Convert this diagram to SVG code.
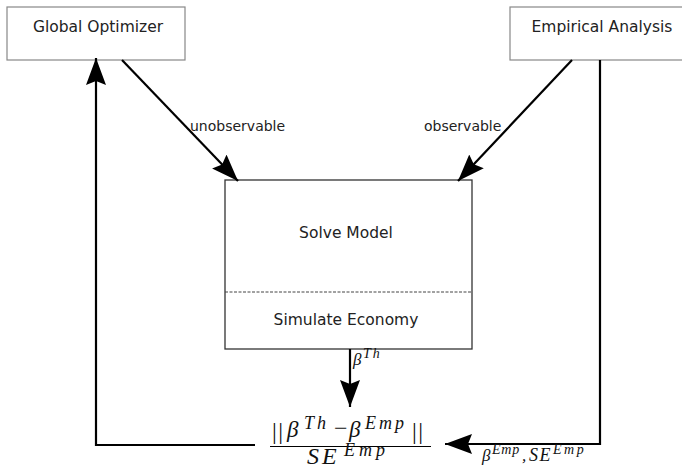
<svg xmlns="http://www.w3.org/2000/svg" width="682" height="468" viewBox="0 0 682 468">
  <style>
    .box { fill: #ffffff; stroke: #888888; stroke-width: 1.2; }
    .main { fill: #ffffff; stroke: #333333; stroke-width: 1.3; }
    .lbl { font-family: "DejaVu Sans", sans-serif; font-size: 15.5px; fill: #222222; text-anchor: middle; }
    .small { font-family: "DejaVu Sans", sans-serif; font-size: 14px; fill: #222222; }
    .mf { font-family: "Liberation Serif", serif; font-style: italic; fill: #111111; }
    .up { font-family: "Liberation Serif", serif; fill: #111111; font-size: 24px; }
    .edge { fill: none; stroke: #000000; stroke-width: 2.2; marker-end: url(#head); }
  </style>
  <defs>
    <marker id="head" viewBox="0 0 27 20" refX="27" refY="10" markerWidth="27" markerHeight="20" markerUnits="userSpaceOnUse" orient="auto">
      <path d="M0,0 L27,10 L0,20 L4,10 Z" fill="#000000"/>
    </marker>
  </defs>

  <rect width="682" height="468" fill="#ffffff"/>

  <g id="global-optimizer">
    <rect class="box" x="7" y="7" width="178" height="53"/>
    <text class="lbl" x="98" y="32">Global Optimizer</text>
  </g>

  <g id="empirical-analysis">
    <rect class="box" x="510" y="7" width="180" height="53"/>
    <text class="lbl" x="602" y="32">Empirical Analysis</text>
  </g>

  <g id="model">
    <rect class="main" x="225" y="180" width="247" height="169"/>
    <line x1="225" y1="292" x2="472" y2="292" stroke="#444444" stroke-width="1" stroke-dasharray="3,1.5"/>
    <text class="lbl" x="346" y="238">Solve Model</text>
    <text class="lbl" x="346" y="325">Simulate Economy</text>
  </g>

  <!-- objective: ||b_th - b_emp|| / SE_emp -->
  <g id="objective">
    <text class="up" x="272" y="439" letter-spacing="1.5">||</text>
    <text class="mf" x="287" y="437" font-size="23">β</text>
    <text class="mf" x="304" y="429" font-size="18" letter-spacing="3">Th</text>
    <text class="up" x="334" y="436" font-size="22">−</text>
    <text class="mf" x="349" y="437" font-size="23">β</text>
    <text class="mf" x="365" y="429" font-size="18" letter-spacing="3">Emp</text>
    <text class="up" x="412" y="439" letter-spacing="1.5">||</text>
    <line x1="270" y1="446.5" x2="431" y2="446.5" stroke="#000000" stroke-width="1"/>
    <text class="mf" x="307" y="464" font-size="24" letter-spacing="3">SE</text>
    <text class="mf" x="344" y="456" font-size="18" letter-spacing="4">Emp</text>
  </g>

  <g id="connectors">
    <line class="edge" x1="122" y1="60" x2="238" y2="181"/>
    <line class="edge" x1="572" y1="60" x2="458" y2="181"/>
    <line class="edge" x1="350" y1="349" x2="350" y2="407"/>
    <polyline class="edge" points="255,445 96,445 96,58"/>
    <polyline class="edge" points="600,60 600,444 445,444"/>
    <text class="small" x="190" y="131">unobservable</text>
    <text class="small" x="424" y="131">observable</text>
    <text class="mf" x="353" y="365" font-size="17">β</text>
    <text class="mf" x="363" y="358" font-size="14" letter-spacing="2">Th</text>
    <text class="mf" x="482" y="461" font-size="17">β</text>
    <text class="mf" x="492" y="454" font-size="14" letter-spacing="0.8">Emp</text>
    <text class="mf" x="522" y="461" font-size="17">,</text>
    <text class="mf" x="529" y="461" font-size="18" letter-spacing="1.5">SE</text>
    <text class="mf" x="553" y="454" font-size="14" letter-spacing="2.5">Emp</text>
  </g>
</svg>
